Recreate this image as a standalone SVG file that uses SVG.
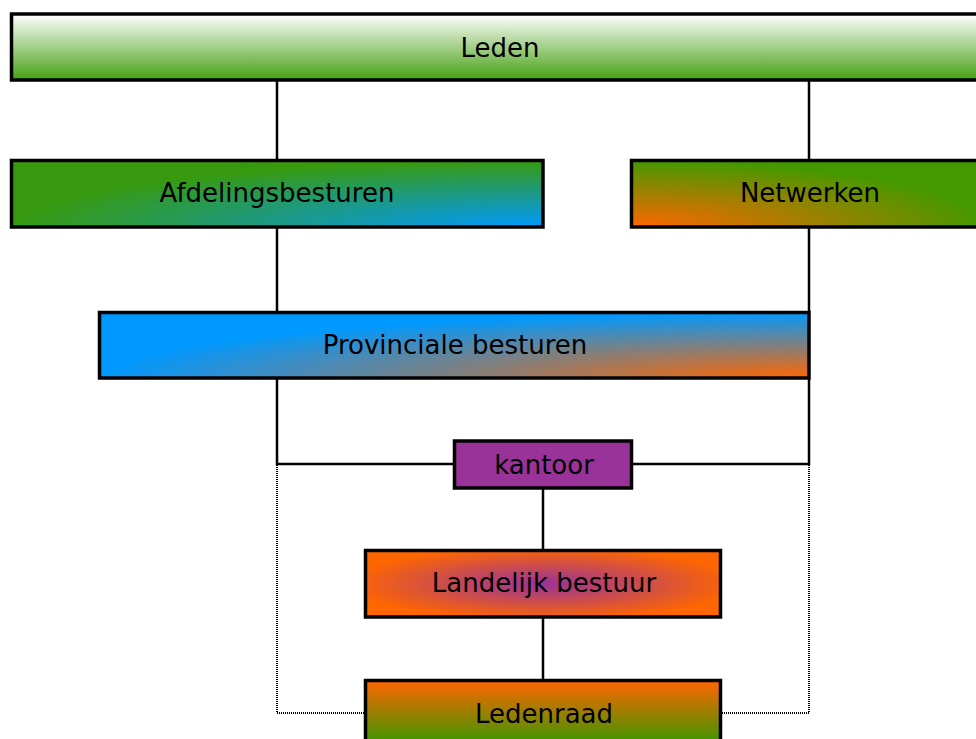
<svg xmlns="http://www.w3.org/2000/svg" width="976" height="739" viewBox="0 0 976 739">
<defs>
<linearGradient id="gLeden" x1="0" y1="0" x2="0" y2="1">
<stop offset="0" stop-color="#ffffff"/>
<stop offset="1" stop-color="#46a012"/>
</linearGradient>
<radialGradient id="gAfd" cx="1" cy="1" r="1" fx="1" fy="1">
<stop offset="0" stop-color="#0099ff"/>
<stop offset="1" stop-color="#379a0e"/>
</radialGradient>
<radialGradient id="gNet" cx="0" cy="1" r="1" fx="0" fy="1">
<stop offset="0" stop-color="#ff6600"/>
<stop offset="1" stop-color="#449900"/>
</radialGradient>
<radialGradient id="gProv" cx="1" cy="1" r="1" fx="1" fy="1">
<stop offset="0" stop-color="#ff6600"/>
<stop offset="1" stop-color="#0099ff"/>
</radialGradient>
<radialGradient id="gLand" cx="0.5" cy="0.5" r="0.55">
<stop offset="0" stop-color="#993399"/>
<stop offset="1" stop-color="#ff6600"/>
</radialGradient>
<linearGradient id="gRaad" x1="0" y1="0" x2="0" y2="1">
<stop offset="0" stop-color="#ff6600"/>
<stop offset="1" stop-color="#339900"/>
</linearGradient>
</defs>
<style>
.box{stroke:#000;stroke-width:3.5}
.lbl{font-family:"DejaVu Sans","Liberation Sans",sans-serif;font-size:26px;fill:#000;text-anchor:middle}
.con{fill:none;stroke:#000;stroke-width:2.5}
.dot{fill:none;stroke:#000;stroke-width:2;stroke-dasharray:1 1;shape-rendering:crispEdges}
</style>
<g id="connectors">
<path class="con" d="M277,80V160M809,80V160M277,227V312M809,227V312M277,378V464H454M809,378V464H632M543,488V550M543,617V680"/>
<path class="dot" d="M277,465V713H365M809,465V713H721"/>
</g>
<g id="leden">
<rect class="box" x="11.5" y="14" width="980" height="66" fill="url(#gLeden)"/>
<text class="lbl" x="500" y="57">Leden</text>
</g>
<g id="afdelingsbesturen">
<rect class="box" x="11.5" y="160.5" width="531.5" height="66.5" fill="url(#gAfd)"/>
<text class="lbl" x="277" y="202">Afdelingsbesturen</text>
</g>
<g id="netwerken">
<rect class="box" x="631.5" y="160.5" width="358" height="66.5" fill="url(#gNet)"/>
<text class="lbl" x="810" y="202">Netwerken</text>
</g>
<g id="provinciale">
<rect class="box" x="99.5" y="312.5" width="709.5" height="65.5" fill="url(#gProv)"/>
<text class="lbl" x="455" y="354">Provinciale besturen</text>
</g>
<g id="kantoor">
<rect class="box" x="454.5" y="441" width="177" height="47" fill="#993399"/>
<text class="lbl" x="544" y="474">kantoor</text>
</g>
<g id="landelijk">
<rect class="box" x="365.5" y="550.5" width="355" height="66.5" fill="url(#gLand)"/>
<text class="lbl" x="544" y="592">Landelijk bestuur</text>
</g>
<g id="ledenraad">
<rect class="box" x="365.5" y="680.5" width="355" height="66" fill="url(#gRaad)"/>
<text class="lbl" x="544" y="723">Ledenraad</text>
</g>
</svg>
